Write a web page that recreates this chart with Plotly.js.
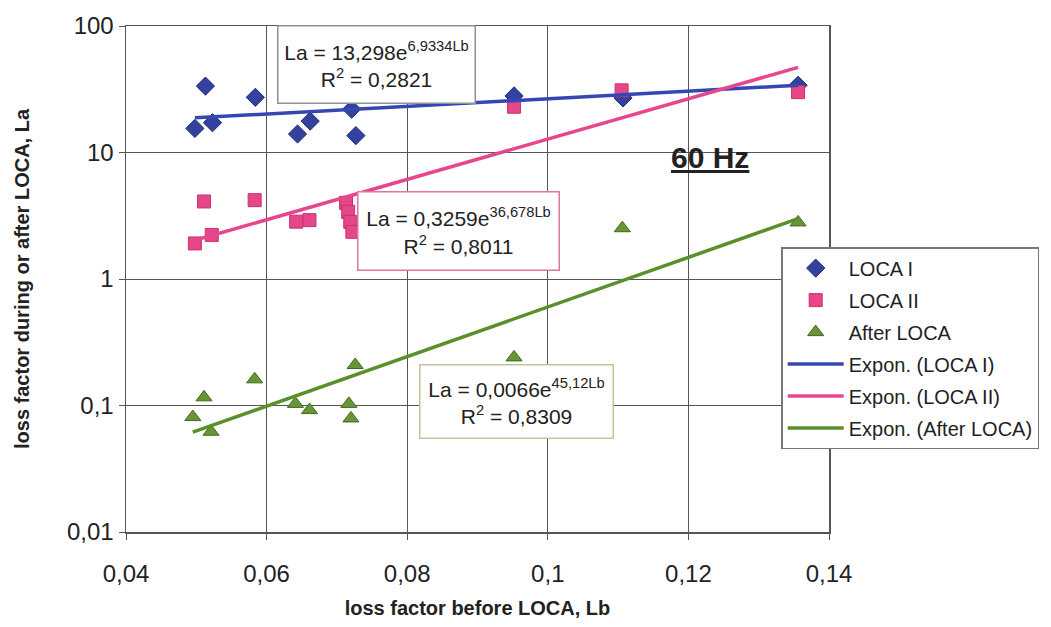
<!DOCTYPE html>
<html>
<head>
<meta charset="utf-8">
<script src="https://cdn.plot.ly/plotly-3.0.1.min.js"></script>
<style>
  html, body { margin: 0; padding: 0; background: #ffffff; }
  #chart { width: 1051px; height: 627px; }
</style>
</head>
<body>
<div id="chart"></div>
<script>
// ---- data ----
const locaI_x = [0.0498, 0.0513, 0.0523, 0.0584, 0.0644, 0.0662, 0.0721, 0.0727, 0.0952, 0.1107, 0.1356];
const locaI_y = [15.5, 33.5, 17.2, 27.3, 14.0, 17.7, 22, 13.6, 28, 27, 34];

const locaII_x = [0.0498, 0.0511, 0.0522, 0.0583, 0.0642, 0.0661, 0.0713, 0.0716, 0.0719, 0.0722, 0.0952, 0.1105, 0.1356];
const locaII_y = [1.91, 4.1, 2.23, 4.2, 2.84, 2.92, 4.0, 3.4, 2.83, 2.36, 23, 31, 30];

const after_x = [0.0495, 0.0511, 0.0521, 0.0583, 0.0641, 0.0661, 0.0717, 0.0720, 0.0726, 0.0952, 0.1106, 0.1356];
const after_y = [0.081, 0.116, 0.062, 0.161, 0.103, 0.092, 0.103, 0.079, 0.209, 0.24, 2.52, 2.8];

// trendline coefficients as printed on the chart (La = a * e^(b*Lb))
const fitI = {a: 13.298, b: 6.9334};
const fitII = {a: 0.3259, b: 36.678};
const fitAfter = {a: 0.0066, b: 45.12};

const xTickVals = [0.04, 0.06, 0.08, 0.1, 0.12, 0.14];
const xTickText = ['0,04', '0,06', '0,08', '0,1', '0,12', '0,14'];
const yTickVals = [0.01, 0.1, 1, 10, 100];
const yTickText = ['0,01', '0,1', '1', '10', '100'];

function trend(xs, fit) {
  const lo = Math.min(...xs), hi = Math.max(...xs);
  const px = [lo, hi];
  return {x: px, y: px.map(v => fit.a * Math.exp(fit.b * v))};
}

const FONT = 'Liberation Sans, Arial, sans-serif';
const cBlue = '#33429e', cPink = '#e6468a';
const lBlue = '#3448b4', lPink = '#e8468c', lGreen = '#5a8f2c';

const tI = trend(locaI_x, fitI), tII = trend(locaII_x, fitII), tA = trend(after_x, fitAfter);

const traces = [
  {x: locaI_x, y: locaI_y, name: 'LOCA I', mode: 'markers', type: 'scatter', legendgroup: 'g1',
   marker: {symbol: 'diamond', size: 14, color: cBlue, line: {color: '#1f2a78', width: 1}}},
  {x: locaII_x, y: locaII_y, name: 'LOCA II', mode: 'markers', type: 'scatter', legendgroup: 'g2',
   marker: {symbol: 'square', size: 13, color: cPink, line: {color: '#c8336f', width: 1}}},
  {x: after_x, y: after_y, name: 'After LOCA', mode: 'markers', type: 'scatter', legendgroup: 'g3',
   marker: {symbol: 'triangle-up', size: 14, color: '#6a9438', line: {color: '#3f6a1c', width: 1}}},
  {x: tI.x, y: tI.y, name: 'Expon. (LOCA I)', mode: 'lines', type: 'scatter', legendgroup: 'g4',
   line: {color: lBlue, width: 3.5}},
  {x: tII.x, y: tII.y, name: 'Expon. (LOCA II)', mode: 'lines', type: 'scatter', legendgroup: 'g5',
   line: {color: lPink, width: 3.5}},
  {x: tA.x, y: tA.y, name: 'Expon. (After LOCA)', mode: 'lines', type: 'scatter', legendgroup: 'g6',
   line: {color: lGreen, width: 3.5}}
];

const sup = s => '<sup>' + s + '</sup>';

const layout = {
  width: 1051, height: 627,
  paper_bgcolor: '#ffffff', plot_bgcolor: '#ffffff',
  font: {family: FONT, color: '#222222'},
  margin: {l: 126, r: 220, t: 26, b: 95, pad: 0},
  showlegend: true,
  xaxis: {
    range: [0.04, 0.14], tickvals: xTickVals, ticktext: xTickText,
    showgrid: true, gridcolor: '#555555', gridwidth: 1,
    showline: true, linecolor: '#555555', linewidth: 1.5, mirror: true,
    ticks: 'outside', ticklen: 6, tickcolor: '#555555',
    tickfont: {family: FONT, size: 24, color: '#222222'},
    ticklabelstandoff: 14,
    zeroline: false, automargin: false,
    title: {text: 'loss factor before LOCA, Lb', font: {family: FONT, size: 20, color: '#222222', weight: 'bold'}, standoff: 14}
  },
  yaxis: {
    type: 'log', range: [-2, 2], tickvals: yTickVals, ticktext: yTickText,
    showgrid: true, gridcolor: '#555555', gridwidth: 1,
    showline: true, linecolor: '#555555', linewidth: 1.5, mirror: true,
    ticks: 'outside', ticklen: 6, tickcolor: '#555555',
    tickfont: {family: FONT, size: 24, color: '#222222'},
    zeroline: false, automargin: false,
    title: {text: 'loss factor during or after LOCA, La', font: {family: FONT, size: 20, color: '#222222', weight: 'bold'}, standoff: 32}
  },
  legend: {
    x: 0.932, xanchor: 'left', y: 0.563, yanchor: 'top',
    bgcolor: '#ffffff', bordercolor: '#777777', borderwidth: 1.5,
    font: {family: FONT, size: 20, color: '#222222'},
    itemwidth: 56, tracegroupgap: 3, traceorder: 'grouped'
  },
  annotations: [
    {xref: 'paper', yref: 'paper', x: 0.2142, y: 1.002, xanchor: 'left', yanchor: 'top',
     text: 'La = 13,298e' + sup('6,9334Lb') + '<br>R' + sup('2') + ' = 0,2821',
     showarrow: false, align: 'center', width: 192, height: 72, borderpad: 2,
     bgcolor: '#ffffff', bordercolor: '#8a8f9a', borderwidth: 1.5,
     font: {family: FONT, size: 21, color: '#222222'}},
    {xref: 'paper', yref: 'paper', x: 0.329, y: 0.674, xanchor: 'left', yanchor: 'top',
     text: 'La = 0,3259e' + sup('36,678Lb') + '<br>R' + sup('2') + ' = 0,8011',
     showarrow: false, align: 'center', width: 196, height: 73, borderpad: 2,
     bgcolor: '#ffffff', bordercolor: '#e07598', borderwidth: 1.5,
     font: {family: FONT, size: 21, color: '#222222'}},
    {xref: 'paper', yref: 'paper', x: 0.417, y: 0.332, xanchor: 'left', yanchor: 'top',
     text: 'La = 0,0066e' + sup('45,12Lb') + '<br>R' + sup('2') + ' = 0,8309',
     showarrow: false, align: 'center', width: 188, height: 68, borderpad: 2,
     bgcolor: '#ffffff', bordercolor: '#c2c49a', borderwidth: 1.5,
     font: {family: FONT, size: 21, color: '#222222'}},
    {xref: 'paper', yref: 'paper', x: 0.831, y: 0.741, xanchor: 'center', yanchor: 'middle',
     text: '<b><u>60 Hz</u></b>', showarrow: false,
     font: {family: FONT, size: 30, color: '#222222'}}
  ]
};

Plotly.newPlot('chart', traces, layout, {displayModeBar: false, staticPlot: true});
</script>
</body>
</html>
